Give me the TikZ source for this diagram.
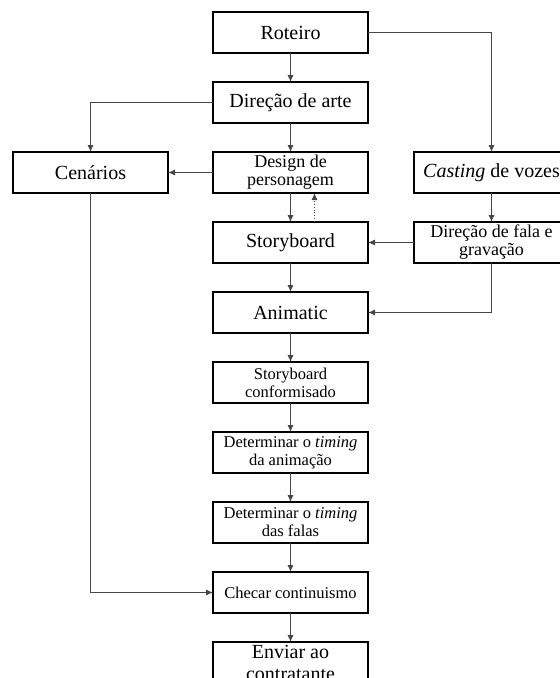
\documentclass[tikz,border=0pt]{standalone}
\usepackage{fontspec}
\setmainfont{Liberation Serif}
\usepackage{tikz}
\usetikzlibrary{arrows.meta,positioning}
\definecolor{lngray}{RGB}{70,70,70}

\begin{document}
\begin{tikzpicture}[
  x=1pt, y=1pt,
  node distance=29pt,
  bx/.style={draw, line width=1.3pt, align=center, inner sep=1pt, outer sep=0pt,
    minimum width=155pt, minimum height=41pt},
  big/.style={bx, font=\fontsize{20}{22}\selectfont},
  mid/.style={bx, font=\fontsize{18}{18}\selectfont},
  sml/.style={bx, font=\fontsize{16.5}{18}\selectfont},
  arr/.style={-{Latex[length=7pt,width=6pt]}, line width=0.9pt, lngray}
]
\useasboundingbox (0,0) rectangle (560,-678);
\node[big] (rot) at (290.5,-32.5) {Roteiro};
\node[big, below=of rot] (dir) {Direção de arte};
\node[mid, below=of dir] (des) {Design de\\personagem};
\node[big, below=of des] (sb)  {Storyboard};
\node[big, below=of sb]  (ani) {Animatic};
\node[sml, below=of ani] (sbc) {Storyboard\\conformisado};
\node[sml, below=of sbc] (tan) {Determinar o \textit{timing}\\da animação};
\node[sml, below=of tan] (tfa) {Determinar o \textit{timing}\\das falas};
\node[sml, below=of tfa] (chk) {Checar continuismo};
\node[big, below=of chk] (env) {Enviar ao\\contratante};
\node[big, left=45pt of des]  (cen)  {Cenários};
\node[big, right=46pt of des] (cast) {\textit{Casting} de vozes};
\node[mid, below=of cast]     (fala) {Direção de fala e\\gravação};
\draw[arr] (rot)--(dir);
\draw[arr] (dir)--(des);
\draw[arr] (des)--(sb);
\draw[arr, dotted] ([xshift=24pt]sb.north) -- ([xshift=24pt]des.south);
\draw[arr] (sb)--(ani);
\draw[arr] (ani)--(sbc);
\draw[arr] (sbc)--(tan);
\draw[arr] (tan)--(tfa);
\draw[arr] (tfa)--(chk);
\draw[arr] (chk)--(env);
\draw[arr] (rot.east) -| (cast.north);
\draw[arr] (cast)--(fala);
\draw[arr] (fala.west)--(sb.east);
\draw[arr] (fala.south) |- (ani.east);
\draw[arr] (dir.west) -| (cen.north);
\draw[arr] (des.west)--(cen.east);
\draw[arr] (cen.south) |- (chk.west);
\end{tikzpicture}
\end{document}
